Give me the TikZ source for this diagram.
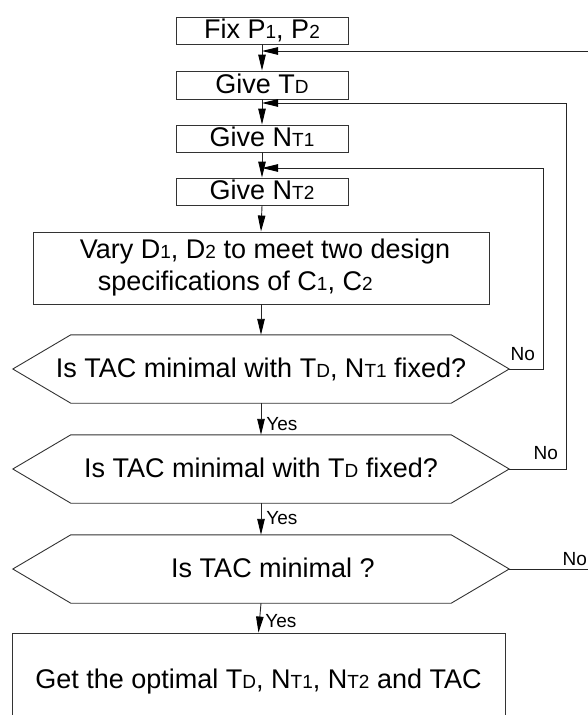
\documentclass[tikz,border=0pt]{standalone}
\usepackage{fontspec}
\setmainfont{Liberation Sans}
\usetikzlibrary{arrows.meta,calc}
% small index letters set on the baseline (T_D, N_T1, ...)
\newcommand\sm[1]{{\fontsize{19}{19}\selectfont #1}}
\newcommand\bigtxt{\fontsize{27}{32}\selectfont}

\begin{document}
\begin{tikzpicture}[x=1pt,y=-1pt,
  outline/.style={draw=black!80, line width=0.9pt},
  stepbox/.style={outline, rectangle, inner sep=0pt, font=\bigtxt,
                  text height=21pt, text depth=5pt},
  testnode/.style={rectangle, inner sep=0pt, font=\bigtxt,
                   text height=21pt, text depth=5pt,
                   minimum width=496pt, minimum height=68pt},
  flow/.style={draw=black!85, line width=0.9pt,
               -{Triangle[length=16pt,width=7.5pt,color=black]}},
  lbl/.style={font=\fontsize{19}{19}\selectfont, inner sep=0pt},
]
\useasboundingbox (0,0) rectangle (588,715);
\clip (0,0) rectangle (588,715);

% process steps
\node[stepbox, minimum width=172pt, minimum height=27pt] (b1) at (262,30.5) {Fix P\sm{1}, P\sm{2}};
\node[stepbox, minimum width=172pt, minimum height=28pt] (b2) at (262,85) {Give T\sm{D}};
\node[stepbox, minimum width=172pt, minimum height=27pt] (b3) at (262,138.5) {Give N\sm{T1}};
\node[stepbox, minimum width=172pt, minimum height=27pt] (b4) at (262,191.5) {Give N\sm{T2}};
\node[outline, rectangle, inner sep=0pt, font=\bigtxt, align=left,
      minimum width=456pt, minimum height=72pt] (b5) at (261,268)
  {\hspace*{8pt}Vary D\sm{1}, D\sm{2} to meet two design\\
   \hspace*{26pt}specifications of C\sm{1}, C\sm{2}};

% decisions
\node[testnode] (q1) at (261,369) {Is TAC minimal with T\sm{D}, N\sm{T1} fixed?};
\node[testnode] (q2) at (261,469) {Is TAC minimal with T\sm{D} fixed?};
\node[testnode] (q3) at (261,569) {\hspace*{24pt}Is TAC minimal ?};
\foreach \h in {q1,q2,q3}
  \draw[outline] (\h.west) -- ([xshift=58pt]\h.north west)
    -- ([xshift=-58pt]\h.north east) -- (\h.east)
    -- ([xshift=-58pt]\h.south east) -- ([xshift=58pt]\h.south west) -- cycle;

% result
\node[stepbox, minimum width=493pt, minimum height=94pt] (b6) at (258.5,680)
  {Get the optimal T\sm{D}, N\sm{T1}, N\sm{T2} and TAC};

% joints on the main line and return columns
\coordinate (j1) at (262,51);
\coordinate (j2) at (262,103);
\coordinate (j3) at (262,168);
\coordinate (r1) at (543,0);
\coordinate (r2) at (566,0);
\coordinate (r3) at (610,0);

% main flow
\draw[flow] (b1.south) -- (b2.north);
\draw[flow] (b2.south) -- (b3.north);
\draw[flow] (b3.south) -- (b4.north);
\draw[flow] (b4.south) -- (b5.north);
\draw[flow] (b5.south) -- (q1.north);
\draw[flow] (q1.south) -- node[lbl, anchor=base west, pos=0.87, xshift=5pt] {Yes} (q2.north);
\draw[flow] (q2.south) -- node[lbl, anchor=base west, pos=0.66, xshift=5pt] {Yes} (q3.north);
\draw[flow] (q3.south) -- node[lbl, anchor=base west, pos=0.83, xshift=6pt] {Yes} (b6.north);

% return loops
\draw[flow] (q1.east) -- node[lbl, anchor=base west, pos=0, xshift=1pt, yshift=9pt] {No}
  (q1.east -| r1) -- (r1 |- j3) -- (j3);
\draw[flow] (q2.east) -- node[lbl, anchor=base west, pos=0, xshift=24pt, yshift=10pt] {No}
  (q2.east -| r2) -- (r2 |- j2) -- (j2);
\draw[flow] (q3.east) -- node[lbl, anchor=base west, pos=0, xshift=53pt, yshift=4pt] {No}
  (q3.east -| r3) -- (r3 |- j1) -- (j1);
\end{tikzpicture}
\end{document}
